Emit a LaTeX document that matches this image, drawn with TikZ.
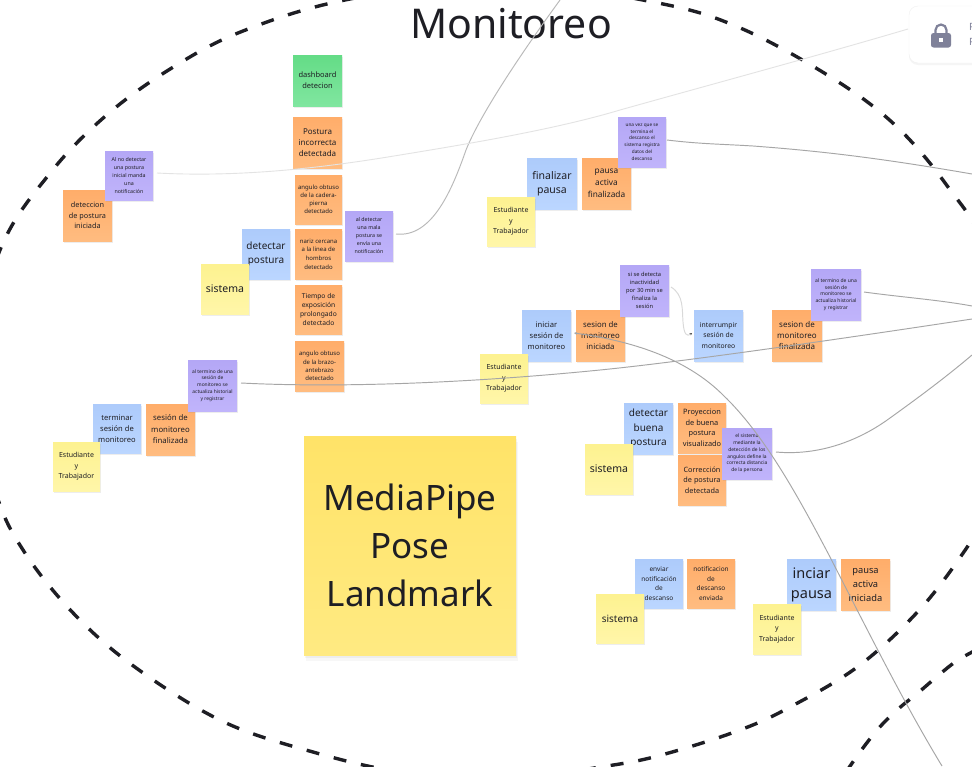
\documentclass[tikz,border=0pt]{standalone}
\usepackage{fontspec}
\setmainfont{Noto Sans}
\usetikzlibrary{shadows,arrows.meta}
\definecolor{ink}{HTML}{1E1E24}
\definecolor{yellowA}{HTML}{FDF290}\definecolor{yellowB}{HTML}{FFF6A9}
\definecolor{blueA}{HTML}{ADCBFB}\definecolor{blueB}{HTML}{BBD6FF}
\definecolor{orangeA}{HTML}{FFAD6A}\definecolor{orangeB}{HTML}{FFBC80}
\definecolor{purpleA}{HTML}{B4A7F6}\definecolor{purpleB}{HTML}{C0B4FB}
\definecolor{greenA}{HTML}{64DC86}\definecolor{greenB}{HTML}{80E6A0}
\definecolor{bigA}{HTML}{FFE368}\definecolor{bigB}{HTML}{FFEA82}
\definecolor{lockgray}{HTML}{7F8199}
\tikzset{
  sticky/.style={inner sep=0pt,outer sep=0pt,align=center,text=ink,
    drop shadow={shadow xshift=0.6pt,shadow yshift=-2pt,opacity=.14}},
  yellownote/.style={sticky,top color=yellowA,bottom color=yellowB},
  bluenote/.style={sticky,top color=blueA,bottom color=blueB},
  orangenote/.style={sticky,top color=orangeA,bottom color=orangeB},
  purplenote/.style={sticky,top color=purpleA,bottom color=purpleB},
  greennote/.style={sticky,top color=greenA,bottom color=greenB},
  bignote/.style={inner sep=0pt,outer sep=0pt,align=center,text=ink,
    drop shadow={shadow xshift=2pt,shadow yshift=-6pt,opacity=.06},
    drop shadow={shadow xshift=1pt,shadow yshift=-3pt,opacity=.08},
    top color=bigA,bottom color=bigB},
  conn/.style={draw=gray!70,line width=0.95pt},
  faintconn/.style={draw=black!11,line width=0.9pt},
  boundary/.style={draw=ink,line width=3.4pt,dash pattern=on 13pt off 15pt},
}
% name, style, x1, y1, x2, y2, font size, line spacing, text
\newcommand{\stick}[9]{%
  \pgfmathsetmacro{\cx}{(#3+#5)/2}\pgfmathsetmacro{\cy}{(#4+#6)/2}%
  \pgfmathsetmacro{\nw}{#5-#3}\pgfmathsetmacro{\nh}{#6-#4}%
  \node[#2,minimum width=\nw pt,minimum height=\nh pt,
    font=\fontsize{#7}{#8}\selectfont] (#1) at (\cx,\cy) {#9};}
\begin{document}
\begin{tikzpicture}[x=1pt,y=-1pt]
\useasboundingbox (0,0) rectangle (972,766);
\clip (0,0) rectangle (972,766);
\fill[white] (0,0) rectangle (972,766);

% boundary
\draw[boundary] plot[smooth cycle,tension=0.6] coordinates {
 (345,0) (495,-20) (653,2) (738,27) (829,76) (895,125) (948,187) (985,250)
 (1010,380) (985,515) (970,543) (922,607) (860,665) (792,706) (740,730) (665,754) (607,766)
 (495,780) (400,772) (313,752) (224,722) (139,670) (77,617) (25,553) (-5,490)
 (-30,372) (0,250) (51,172) (109,113) (175,66) (243,31)};
\draw[boundary] plot[smooth,tension=0.6] coordinates {
 (846,772) (860,752) (878,729) (897,710) (919,692) (940,674) (958,660) (980,648)};

\node[font=\fontsize{41}{48}\selectfont,text=ink,inner sep=0pt] (title) at (511,24) {Monitoreo};

% lock card
\node[draw=black!6,fill=white,rounded corners=9pt,minimum width=100pt,minimum height=57pt,inner sep=0pt,
  drop shadow={shadow xshift=0pt,shadow yshift=-2pt,opacity=.08}] (lockcard) at (959,34.5) {};
\draw[lockgray,line width=2.2pt] (935.5,34) -- (935.5,30) arc[start angle=180,end angle=0,radius=5.5pt] -- (946.5,34);
\fill[lockgray,rounded corners=2.5pt] (931,33) rectangle (951,47.5);
\fill[white] (939,38) rectangle (943,42);
\node[anchor=west,inner sep=0pt,text=lockgray,font=\fontsize{10}{15}\selectfont,align=left] (locktext) at (969,34) {P\\P};

% notes
\stick{dash}{greennote}{293}{55}{342}{106}{7.5}{11}{dashboard\\detecion}
\stick{incorr}{orangenote}{293}{117}{342}{168}{8}{11}{Postura\\incorrecta\\detectada}
\stick{cadera}{orangenote}{295}{175}{342}{224}{6}{8}{angulo obtuso\\de la cadera-\\pierna\\detectado}
\stick{nariz}{orangenote}{295}{229}{342}{279}{6}{8.7}{nariz cercana\\a la linea de\\hombros\\detectado}
\stick{detpost}{bluenote}{242}{229}{290}{279}{10}{14}{detectar\\postura}
\stick{sis1}{yellownote}{201}{264}{249}{314}{10.5}{14}{sistema}
\stick{tiempo}{orangenote}{295}{285}{342}{334}{6.7}{9.3}{Tiempo de\\exposición\\prolongado\\detectado}
\stick{brazo}{orangenote}{295}{341}{344}{391}{6}{8.2}{angulo obtuso\\de la brazo-\\antebrazo\\detectado}
\stick{aldet}{purplenote}{345}{211}{393}{261}{5.3}{8}{al detectar\\una mala\\postura se\\envía una\\notificación}
\stick{inipost}{orangenote}{63}{190}{112}{241}{7.3}{10.5}{deteccion\\de postura\\iniciada}
\stick{alno}{purplenote}{105}{151}{153}{200}{5.3}{8}{Al no detectar\\una postura\\inicial manda\\una\\notificación}

\stick{finpausa}{bluenote}{527}{158}{577}{209}{10.5}{14}{finalizar\\pausa}
\stick{pausafin}{orangenote}{582}{158}{631}{209}{8.3}{12}{pausa\\activa\\finalizada}
\stick{est1}{yellownote}{487}{197}{535}{246}{7}{10.5}{Estudiante\\y\\Trabajador}
\stick{unavez}{purplenote}{618}{117}{666}{167}{4.7}{6.7}{una vez que se\\termina el\\descanso el\\sistema registra\\datos del\\descanso}

\stick{iniciar}{bluenote}{522}{310}{571}{361}{7.6}{11}{iniciar\\sesión de\\monitoreo}
\stick{sesini}{orangenote}{576}{310}{625}{361}{7.8}{11}{sesion de\\monitoreo\\iniciada}
\stick{sidet}{purplenote}{620}{265}{669}{316}{5.7}{8}{si se detecta\\inactividad\\por 30 min se\\finaliza la\\sesión}
\stick{est2}{yellownote}{480}{354}{528}{403}{7}{10.5}{Estudiante\\y\\Trabajador}
\stick{interr}{bluenote}{694}{310}{743}{361}{6.8}{10.5}{interrumpir\\sesión de\\monitoreo}
\stick{sesfin}{orangenote}{772}{310}{822}{361}{8}{11}{sesion de\\monitoreo\\finalizada}
\stick{altermr}{purplenote}{811}{269}{861}{320}{5}{6.8}{al termino de una\\sesión de\\monitoreo se\\actualiza historial\\y registrar}

\stick{detbuena}{bluenote}{624}{403}{673}{454}{10}{14.3}{detectar\\buena\\postura}
\stick{proy}{orangenote}{678}{403}{726}{453}{7.4}{10.5}{Proyeccion\\de buena\\postura\\visualizado}
\stick{corr}{orangenote}{678}{455}{726}{505}{7.3}{10.5}{Corrección\\de postura\\detectada}
\stick{elsis}{purplenote}{722}{428}{772}{479}{4.9}{6.8}{el sistema\\mediante la\\detección de los\\angulos define la\\correcta distancia\\de la persona}
\stick{sis2}{yellownote}{585}{444}{633}{494}{10.5}{14}{sistema}

\stick{enviar}{bluenote}{635}{559}{683}{608}{6.5}{9.5}{enviar\\notificación\\de\\descanso}
\stick{notif}{orangenote}{687}{559}{735}{608}{6.5}{9.5}{notificacion\\de\\descanso\\enviada}
\stick{sis3}{yellownote}{596}{594}{644}{643}{10}{14}{sistema}
\stick{inciar}{bluenote}{787}{559}{836}{610}{14.5}{20}{inciar\\pausa}
\stick{pausaini}{orangenote}{841}{559}{890}{610}{9.3}{14}{pausa\\activa\\iniciada}
\stick{est3}{yellownote}{753}{604}{801}{654}{7}{10.5}{Estudiante\\y\\Trabajador}

\stick{termin}{bluenote}{93}{404}{141}{453}{7.6}{11}{terminar\\sesión de\\monitoreo}
\stick{sesfinl}{orangenote}{146}{404}{195}{455}{7.8}{11.5}{sesión de\\monitoreo\\finalizada}
\stick{est4}{yellownote}{53}{442}{100}{491}{7}{10.5}{Estudiante\\y\\Trabajador}
\stick{altermi}{purplenote}{188}{360}{237}{411}{4.9}{6.8}{al termino de una\\sesión de\\monitoreo se\\actualiza historial\\y registrar}

\stick{mediapipe}{bignote}{304}{436}{516}{655}{35}{48}{MediaPipe\\Pose\\Landmark}

% free ends
\coordinate (endA) at (560,0);
\coordinate (endB) at (908,29);
\coordinate (endC) at (972,174);
\coordinate (endD) at (972,319);
\coordinate (endE) at (972,306);
\coordinate (endF) at (942,766);
\coordinate (endG) at (972,355);

% connectors
\draw[conn,draw=gray!55] ([xshift=3pt,yshift=2pt]aldet.east) .. controls (432,238) and (452,190) .. (466,150) .. controls (480,115) and (520,55) .. (endA);
\draw[faintconn] ([xshift=4pt,yshift=2.5pt]alno.east) .. controls (250,178) and (340,165) .. (400,155) .. controls (480,142) and (560,128) .. (620,110) .. controls (720,82) and (820,55) .. (endB);
\draw[conn] ([xshift=1pt,yshift=2pt]unavez.east) .. controls (700,144) and (720,144) .. (753,146) .. controls (820,151) and (880,158) .. (endC);
\draw[conn] ([xshift=4pt,yshift=2.5pt]altermi.east) .. controls (340,388) and (470,383) .. (600,370) .. controls (680,362) and (820,342) .. (endD);
\draw[conn] ([xshift=3pt,yshift=2.5pt]altermr.east) .. controls (900,297) and (940,300) .. (endE);
\draw[conn,-{Stealth[length=3pt,width=3pt]}] (endF) .. controls (905,705) and (870,635) .. (830,557) .. controls (800,500) and (765,435) .. (723,395) .. controls (690,362) and (640,342) .. ([xshift=3pt,yshift=2.5pt]iniciar.east);
\draw[conn] ([xshift=4pt,yshift=1.5pt]elsis.east) .. controls (820,456) and (860,440) .. (890,418) .. controls (915,400) and (945,378) .. (endG);
\draw[conn,draw=black!15,-{Stealth[length=2.5pt,width=2.5pt,black!70]}] ([xshift=2pt,yshift=3.5pt]sidet.east) .. controls (684,295) and (682,310) .. (683,322) .. controls (684,335) and (687,337) .. ([xshift=-2pt,yshift=2.5pt]interr.west);
\end{tikzpicture}
\end{document}
